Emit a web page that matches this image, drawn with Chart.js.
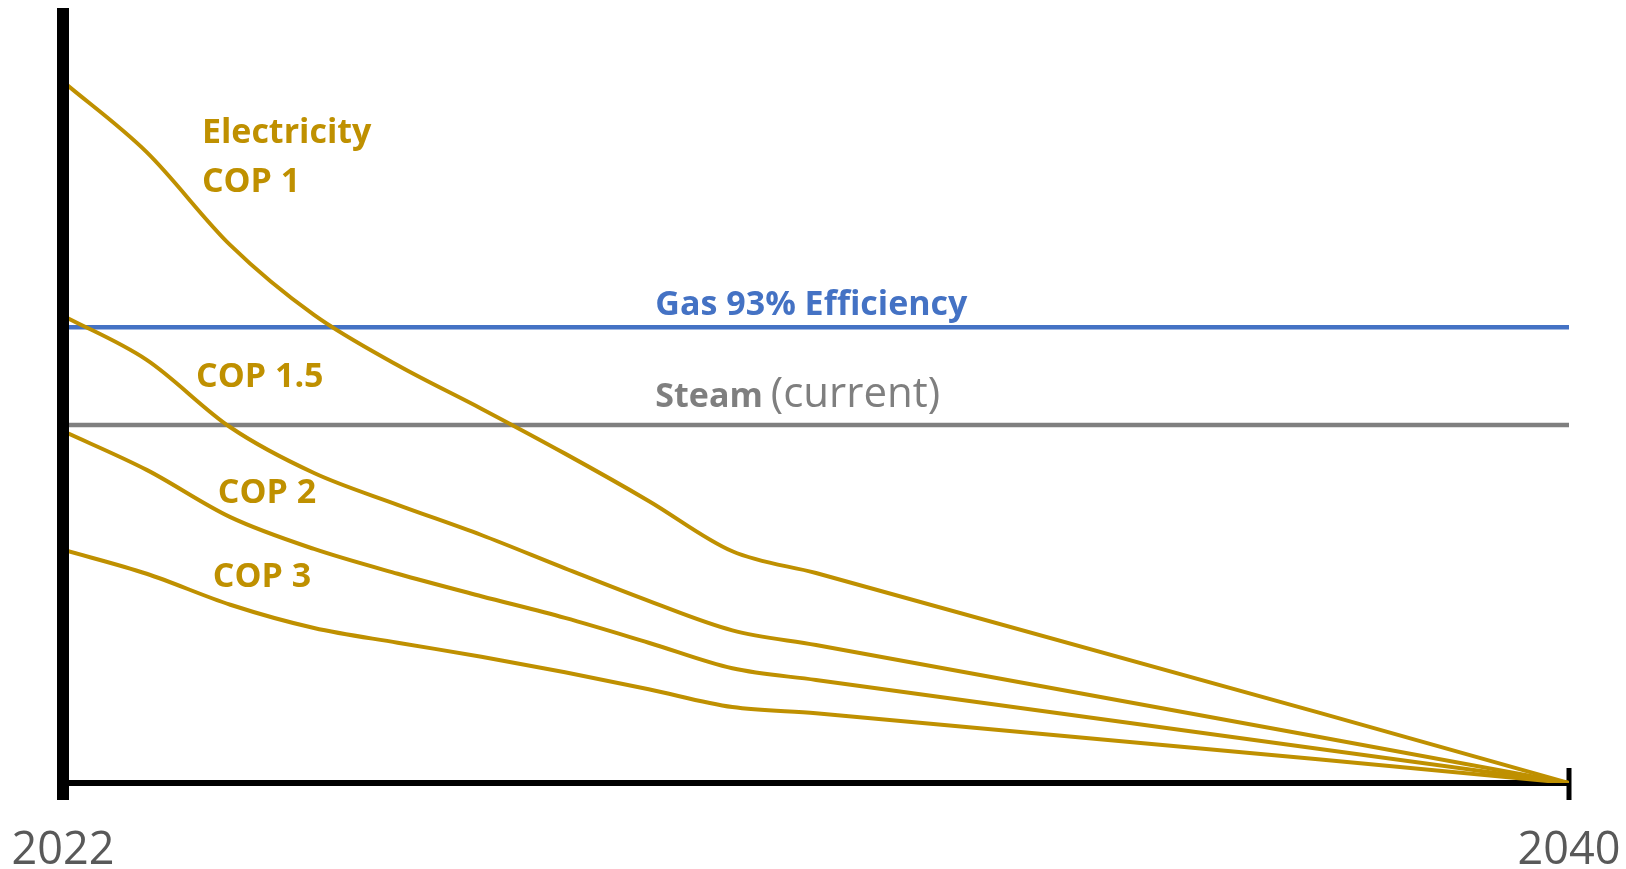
<!DOCTYPE html>
<html>
<head>
<meta charset="utf-8">
<script src="https://cdn.jsdelivr.net/npm/chart.js@4.4.1/dist/chart.umd.min.js"></script>
<style>
  html, body { margin: 0; padding: 0; background: #fff; }
  #wrap { width: 1626px; height: 869px; }
</style>
</head>
<body>
<div id="wrap"><canvas id="costChart"></canvas></div>
<script>
// años del eje x
const years = [2022, 2023, 2024, 2025, 2026, 2027, 2028, 2029, 2030, 2031, 2040];
const tickYears = [2022, 2040];
const tickLabels = ['2022', '2040'];

// coste relativo de calefacción (unidades arbitrarias, 0 = eje inferior)
const electricityCop1 = [90.5, 81.4, 69.4, 60.4, 53.9, 48.3, 42.5, 36.4, 29.9, 27.1, 0];
const cop15 = [60.3, 54.6, 45.9, 40.0, 35.9, 32.0, 27.7, 23.5, 19.7, 17.8, 0];
const cop2 = [45.4, 40.4, 34.3, 30.2, 27.0, 24.1, 21.3, 18.1, 14.8, 13.3, 0];
const cop3 = [30.1, 27.0, 23.0, 20.0, 18.1, 16.3, 14.3, 12.1, 9.8, 9.0, 0];

const flatYears = [2022, 2040];
const gas93 = [58.8, 58.8];
const steamCurrent = [46.2, 46.2];

const GOLD = '#BF9000';
const BLUE = '#4472C4';
const GREY = '#7F7F7F';

const toPoints = (xs, ys) => xs.map((x, i) => ({ x: x, y: ys[i] }));

function goldLine(label, values) {
    return {
        label: label,
        data: toPoints(years, values),
        borderColor: GOLD,
        borderWidth: 4,
        pointRadius: 0,
        cubicInterpolationMode: 'monotone'
    };
}

// etiquetas de texto sobre el gráfico (en coordenadas de datos)
const notes = [
    { parts: [['Electricity', 'bold 34px "Open Sans"', GOLD]], x: 2023.66, y: 82.6 },
    { parts: [['COP 1', 'bold 34px "Open Sans"', GOLD]], x: 2023.66, y: 76.3 },
    { parts: [['COP 1.5', 'bold 34px "Open Sans"', GOLD]], x: 2023.59, y: 51.1 },
    { parts: [['COP 2', 'bold 34px "Open Sans"', GOLD]], x: 2023.85, y: 36.1 },
    { parts: [['COP 3', 'bold 34px "Open Sans"', GOLD]], x: 2023.79, y: 25.3 },
    { parts: [['Gas 93% Efficiency', 'bold 34px "Open Sans"', BLUE]], x: 2029.08, y: 60.4 },
    { parts: [['Steam', 'bold 34px "Open Sans"', GREY], ['(current)', '42px "Open Sans"', GREY]], x: 2029.08, y: 48.5 }
];

const axisLines = {
    id: 'axisLines',
    beforeDatasetsDraw(chart) {
        const { ctx, scales: { x, y } } = chart;
        const x0 = x.getPixelForValue(tickYears[0]);
        const x1 = x.getPixelForValue(tickYears[1]);
        const y0 = y.getPixelForValue(0);
        ctx.save();
        ctx.strokeStyle = '#000';
        ctx.lineWidth = 6;
        ctx.beginPath();
        ctx.moveTo(x0, y0);
        ctx.lineTo(x1, y0);
        ctx.stroke();
        ctx.lineWidth = 5;
        ctx.beginPath();
        ctx.moveTo(x1, y0 - 15);
        ctx.lineTo(x1, y0 + 17);
        ctx.stroke();
        ctx.restore();
    },
    afterDatasetsDraw(chart) {
        const { ctx, chartArea, scales: { x, y } } = chart;
        const x0 = x.getPixelForValue(tickYears[0]);
        const y0 = y.getPixelForValue(0);
        ctx.save();
        ctx.strokeStyle = '#000';
        ctx.lineWidth = 12;
        ctx.beginPath();
        ctx.moveTo(x0, chartArea.top);
        ctx.lineTo(x0, y0 + 17);
        ctx.stroke();
        ctx.restore();
    }
};

const textNotes = {
    id: 'textNotes',
    afterDraw(chart) {
        const { ctx, scales: { x, y } } = chart;
        ctx.save();
        ctx.textBaseline = 'alphabetic';
        ctx.textAlign = 'left';
        notes.forEach(n => {
            let px = x.getPixelForValue(n.x);
            const py = y.getPixelForValue(n.y);
            n.parts.forEach(([txt, font, color]) => {
                ctx.font = font;
                ctx.fillStyle = color;
                ctx.fillText(txt, px, py);
                px += ctx.measureText(txt).width + 8;
            });
        });
        ctx.restore();
    }
};

const ctx = document.getElementById('costChart').getContext('2d');

new Chart(ctx, {
    type: 'line',
    data: {
        datasets: [
            goldLine('Electricity COP 1', electricityCop1),
            goldLine('COP 1.5', cop15),
            goldLine('COP 2', cop2),
            goldLine('COP 3', cop3),
            {
                label: 'Gas 93% Efficiency',
                data: toPoints(flatYears, gas93),
                borderColor: BLUE,
                borderWidth: 4.5,
                pointRadius: 0
            },
            {
                label: 'Steam (current)',
                data: toPoints(flatYears, steamCurrent),
                borderColor: GREY,
                borderWidth: 4.5,
                pointRadius: 0
            }
        ]
    },
    options: {
        responsive: true,
        maintainAspectRatio: false,
        animation: false,
        layout: { padding: { left: 63, right: 57, top: 8, bottom: 0 } },
        plugins: {
            legend: { display: false },
            tooltip: { enabled: false }
        },
        scales: {
            x: {
                type: 'linear',
                min: tickYears[0],
                max: tickYears[1],
                grid: { display: false, drawTicks: false },
                border: { display: false },
                afterBuildTicks: s => { s.ticks = tickYears.map(v => ({ value: v })); },
                afterFit: s => {
                    s.height = 86;
                    s.paddingLeft = 0;
                    s.paddingRight = 0;
                },
                ticks: {
                    autoSkip: false,
                    maxRotation: 0,
                    padding: 41,
                    color: '#595959',
                    font: { family: '"Open Sans"', size: 45 },
                    callback: (v) => tickLabels[tickYears.indexOf(v)]
                }
            },
            y: {
                display: false,
                min: 0,
                max: 100
            }
        }
    },
    plugins: [axisLines, textNotes]
});
</script>
</body>
</html>
